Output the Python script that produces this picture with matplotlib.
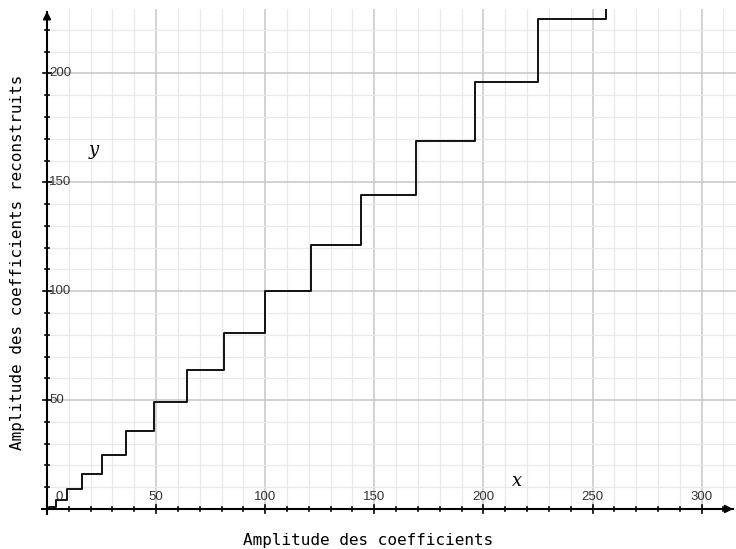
import matplotlib
matplotlib.use("Agg")
import matplotlib.pyplot as plt
import numpy as np

# data
breaks = [0, 1, 4, 9, 16, 25, 36, 49, 64, 81, 100, 121, 144, 169, 196, 225, 256, 289]
levels = [0, 1, 4, 9, 16, 25, 36, 49, 64, 81, 100, 121, 144, 169, 196, 225, 256, 256]
xticklabels = [50, 100, 150, 200, 250, 300]
yticklabels = [50, 100, 150, 200]
xlabel = "Amplitude des coefficients"
ylabel = "Amplitude des coefficients reconstruits"

W, H = 736, 549
fig = plt.figure(figsize=(W / 100, H / 100), dpi=100)
x0px, y0px = 47, 509
top_px = 9
ax = fig.add_axes([x0px / W, (H - y0px) / H, (W - x0px) / W, (y0px - top_px) / H])
sx = 2.182
sy = 2.178
xmax = (W - x0px) / sx
ymax = (y0px - top_px) / sy
ax.set_xlim(0, xmax)
ax.set_ylim(0, ymax)
for s in ax.spines.values():
    s.set_visible(False)
ax.set_xticks([]); ax.set_yticks([])
ax.patch.set_alpha(0)

# grid
for v in np.arange(10, xmax, 10):
    major = (round(v) % 50 == 0)
    ax.axvline(v, color='#c6c6c6' if major else '#e9e9e9', lw=1.1 if major else 0.9, zorder=1)
for v in np.arange(10, ymax, 10):
    major = (round(v) % 50 == 0)
    ax.axhline(v, color='#c6c6c6' if major else '#e9e9e9', lw=1.1 if major else 0.9, zorder=1)

# step curve
ax.step(breaks, levels, where='post', color='#111111', lw=1.4, zorder=3)

# axes with arrows
ax.plot([-2.5, xmax - 1.5], [0, 0], color='black', lw=1.5, clip_on=False, zorder=4)
ax.plot([0, 0], [-2.5, ymax - 1.5], color='black', lw=1.5, clip_on=False, zorder=4)
ax.annotate('', xy=(xmax, 0), xytext=(xmax - 4, 0),
            arrowprops=dict(arrowstyle='-|>', color='black', lw=1.2, mutation_scale=12),
            annotation_clip=False, zorder=5)
ax.annotate('', xy=(0, ymax + 0.3), xytext=(0, ymax - 4),
            arrowprops=dict(arrowstyle='-|>', color='black', lw=1.2, mutation_scale=12),
            annotation_clip=False, zorder=5)

# ticks
for v in np.arange(10, xmax - 3, 10):
    major = (round(v) % 50 == 0)
    h = 4 / sy if major else 2 / sy
    ax.plot([v, v], [-h, h], color='black', lw=1.2, clip_on=False, zorder=4)
for v in np.arange(10, ymax - 3, 10):
    major = (round(v) % 50 == 0)
    h = 4 / sx if major else 2 / sx
    ax.plot([-h, h], [v, v], color='black', lw=1.2, clip_on=False, zorder=4)

tkw = dict(fontsize=9.5, color='#333333', family='Liberation Sans', zorder=6)
for v in xticklabels:
    ax.text(v, 12 / sy, str(v), ha='center', va='center', **tkw)
ax.text(5.8, 12 / sy, '0', ha='center', va='center', **tkw)
for v in yticklabels:
    ax.text(2.2 / sx, v, str(v), ha='left', va='center', **tkw)

# x, y italic labels
ax.text(215.4, 12.9, 'x', fontsize=13, style='italic', family='DejaVu Serif', ha='center', va='center')
ax.text(21.5, 164.8, 'y', fontsize=13, style='italic', family='DejaVu Serif', ha='center', va='center')

fig.text(368 / W, 1 - 540 / H, xlabel, ha='center', va='center', fontsize=11.5, family='DejaVu Sans Mono')
fig.text(18 / W, 1 - 262 / H, ylabel, ha='center', va='center', rotation=90, fontsize=11.5, family='DejaVu Sans Mono')

fig.savefig('out.png', dpi=100)
